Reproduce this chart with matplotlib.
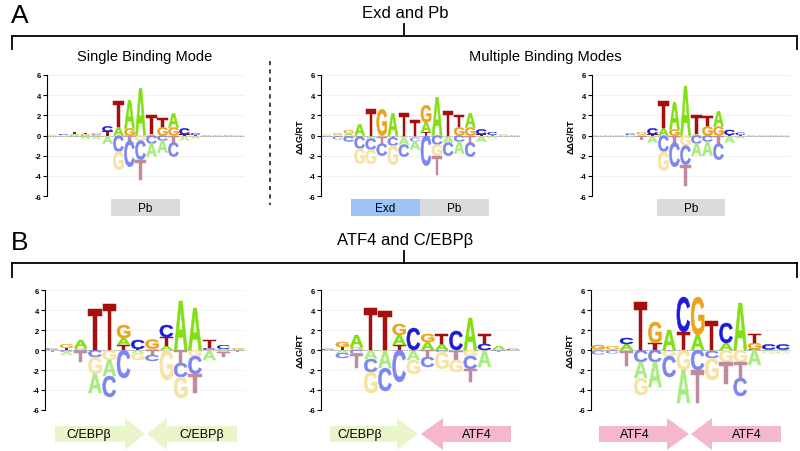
import matplotlib
matplotlib.use('Agg')
import matplotlib.pyplot as plt
from matplotlib.textpath import TextPath
from matplotlib.patches import PathPatch, Rectangle, Polygon
from matplotlib.font_manager import FontProperties
from matplotlib.transforms import Affine2D

# energy logo values, one row per position: ddG/RT for A, C, G, T
BASES = ['A', 'C', 'G', 'T']

pb_single = [
    [0.03, -0.03, 0.02, 0.02], [-0.08, 0.1, 0.05, -0.05], [0.1, -0.1, 0.05, 0.2],
    [-0.35, 0.05, 0.1, 0.1], [-0.25, 0.1, 0.15, -0.1], [-0.7, 0.5, -0.1, 0.4],
    [0.8, -1.6, -1.8, 2.6], [2.8, -2.6, 0.7, -0.5], [4.7, -1.9, -0.5, -2.0],
    [-1.3, -0.8, 0.1, 1.9], [-1.2, -0.5, 0.8, 0.9], [1.4, -1.4, 0.8, -0.7],
    [-0.4, 0.6, -0.1, 0.1], [-0.2, 0.2, -0.1, 0.05], [0.03, -0.05, 0.02, 0.03],
    [0.02, 0.03, -0.04, 0.03], [-0.02, 0.03, 0.02, -0.02], [0.02, 0.02, -0.03, 0.03],
]

exd_pb = [
    [0.05, -0.1, 0.05, -0.05], [0.1, -0.3, 0.15, -0.1], [0.2, -0.5, 0.35, -0.1],
    [1.1, -1.2, -1.5, -0.1], [-0.3, -1.1, -1.4, 2.6], [-0.1, -1.2, 2.6, -0.7],
    [2.2, -0.8, -1.9, -0.2], [-0.7, -1.2, -0.2, 2.2], [-0.8, -0.4, -0.2, 1.5],
    [1.0, -3.0, 1.7, 0.3], [3.8, -0.9, -1.1, -1.9], [-0.6, -1.3, -0.1, 2.4],
    [-1.2, -0.6, 0.8, 1.2], [1.4, -1.4, 0.8, -0.7], [-0.5, 0.5, -0.1, 0.1],
    [-0.2, 0.3, -0.2, 0.05], [0.05, -0.05, 0.02, 0.03], [-0.02, 0.03, -0.02, 0.04],
]

pb_multi = [
    [0.02, 0.02, -0.02, 0.03], [0.02, -0.03, 0.02, 0.03], [-0.03, 0.02, 0.02, 0.04],
    [-0.15, 0.15, 0.05, -0.05], [0.1, -0.05, 0.25, -0.35], [-0.6, 0.6, -0.1, 0.1],
    [0.7, -1.6, -1.9, 2.7], [2.7, -2.4, 0.6, -0.7], [4.9, -1.9, -1.0, -2.1],
    [-1.2, -0.8, 0.1, 1.9], [-1.4, -0.6, 0.9, 1.0], [1.5, -1.6, 0.9, -0.8],
    [-0.6, 0.5, -0.1, 0.05], [-0.2, 0.25, -0.1, 0.05], [0.02, -0.03, 0.02, 0.03],
    [-0.02, 0.02, 0.02, 0.04], [-0.02, 0.02, 0.02, 0.04], [0.02, -0.02, 0.02, 0.03],
]

cebp_cebp = [
    [0.05, 0.1, -0.05, -0.1], [-0.3, -0.2, 0.4, 0.2], [0.8, -0.1, 0.2, -1.1],
    [-1.9, -0.7, -1.7, 4.1], [-1.6, -2.1, -1.0, 4.6], [0.7, -2.8, 1.3, 0.5],
    [-0.3, 0.9, -0.7, 0.1], [0.15, -0.6, 0.9, -0.5], [0.4, 1.2, -3.0, 0.9],
    [4.9, -1.4, -2.1, -1.3], [4.2, -1.8, -0.6, -1.9], [-0.9, 0.2, -0.1, 0.8],
    [-0.2, 0.4, 0.1, -0.5], [0.1, -0.05, 0.1, -0.1],
]

cebp_atf4 = [
    [0.02, 0.1, -0.05, -0.05], [-0.3, -0.5, 0.5, 0.3], [1.2, -0.4, 0.3, -1.4],
    [-0.9, -1.3, -2.1, 4.2], [-1.7, -2.3, -0.1, 3.9], [1.0, -3.2, 1.1, 0.5],
    [-0.9, 2.2, -1.4, -0.1], [0.8, -1.0, 0.8, -0.7], [0.6, -0.2, -1.7, 1.0],
    [-0.1, 1.9, -1.2, -0.9], [3.2, -1.3, -0.6, -1.3], [-1.6, 0.6, -0.1, 1.0],
    [0.3, -0.1, 0.1, -0.1], [-0.03, 0.1, -0.05, 0.02],
]

atf4_atf4 = [
    [-0.05, -0.4, 0.45, 0.05], [0.05, -0.3, 0.35, -0.05], [0.6, 0.6, -0.1, -1.5],
    [-1.6, -1.2, -1.7, 4.8], [-2.5, -1.2, 2.1, 0.7], [2.0, -2.1, -0.5, -0.1],
    [-3.3, 3.5, -2.0, 1.8], [1.5, -2.0, 3.8, -3.3], [-0.1, -0.7, -2.2, 2.9],
    [0.7, 2.0, -1.2, -2.2], [4.7, -1.8, -1.2, -1.6], [-1.5, 0.1, 0.6, 0.9],
    [-0.1, 0.5, -0.3, 0.05], [-0.1, 0.5, -0.3, 0.05],
]

POS_COL = {'A': '#80e012', 'C': '#1c1cd8', 'G': '#eca31a', 'T': '#a5100e'}
NEG_COL = {'A': '#a8ec80', 'C': '#7c86f2', 'G': '#f6e3a2', 'T': '#be8c9c'}

W, H = 800, 452
plt.rcParams['font.family'] = ['Liberation Sans', 'DejaVu Sans']

fig = plt.figure(figsize=(8, 4.52), dpi=100)

# glyph outlines normalised to the unit square
glyph_fp = FontProperties(family='Liberation Sans', weight='bold')
GLYPHS = {}
for b in BASES:
    p = TextPath((0, 0), b, size=1, prop=glyph_fp)
    ext = p.get_extents()
    GLYPHS[b] = p.transformed(Affine2D().translate(-ext.x0, -ext.y0)
                              .scale(1 / ext.width, 1 / ext.height))


def letter(ax, b, x, y, w, h, col):
    path = GLYPHS[b].transformed(Affine2D().scale(w, h).translate(x, y))
    # thin same-colour edge makes the strokes as heavy as in the original,
    # but only on letters tall enough to need it
    lw = 0.35 if h > 0.4 else 0
    ax.add_patch(PathPatch(path, fc=col, ec=col if lw else 'none', lw=lw, zorder=3))


def draw_logo(ax, rows, ylabel=True):
    n = len(rows)
    for i, row in enumerate(rows):
        up, down = 0.0, 0.0
        for v, b in sorted(zip(row, BASES), key=lambda t: abs(t[0])):
            if v > 0:
                letter(ax, b, i - 0.46, up, 0.92, v, POS_COL[b])
                up += v
            elif v < 0:
                letter(ax, b, i - 0.46, down + v, 0.92, -v, NEG_COL[b])
                down += v
    ax.set_xlim(-0.5, n - 0.5)
    ax.set_ylim(-6, 6)
    ax.set_yticks(range(-6, 7, 2))
    ax.set_yticklabels([str(t) for t in range(-6, 7, 2)], fontsize=5.5, fontweight='bold')
    ax.set_xticks([])
    ax.tick_params(axis='y', length=3, width=0.8, pad=1)
    for s in ['top', 'right', 'bottom']:
        ax.spines[s].set_visible(False)
    ax.spines['left'].set_linewidth(0.8)
    ax.yaxis.grid(True, color='#f0f0f0', lw=0.6)
    ax.set_axisbelow(True)
    ax.axhline(0, color='#999999', lw=0.6, ls=(0, (2, 1)), zorder=2)
    if ylabel:
        ax.set_ylabel('ΔΔG/RT', fontsize=6.5, fontweight='bold', labelpad=3)
    ax.patch.set_alpha(0)


def px_axes(x0, y0, x1, y1):
    return fig.add_axes([x0 / W, 1 - y1 / H, (x1 - x0) / W, (y1 - y0) / H])


# overlay in pixel coordinates for brackets, labels, boxes and arrows
ov = fig.add_axes([0, 0, 1, 1])
ov.set_xlim(0, W)
ov.set_ylim(H, 0)
ov.axis('off')

ov.text(20, 16, 'A', fontsize=19, ha='center', va='center')
ov.text(20, 243, 'B', fontsize=19, ha='center', va='center')
ov.text(405, 13, 'Exd and Pb', fontsize=12, ha='center', va='center')
ov.text(405, 241, 'ATF4 and C/EBPβ', fontsize=12, ha='center', va='center')
ov.text(145, 57, 'Single Binding Mode', fontsize=10.5, ha='center', va='center')
ov.text(545, 57, 'Multiple Binding Modes', fontsize=10.5, ha='center', va='center')

for ytop, yline, yend in [(25, 37, 50), (252, 264, 278)]:
    ov.plot([12, 797], [yline, yline], color='black', lw=1.3)
    ov.plot([12, 12], [yline, yend], color='black', lw=1.3)
    ov.plot([797, 797], [yline, yend], color='black', lw=1.3)
    ov.plot([404, 404], [ytop, yline], color='black', lw=1.3)

ov.plot([270, 270], [62, 206], color='#222222', lw=1.2, ls=(0, (2.5, 2.5)))

GREY = '#d9dcdc'
BLUE = '#9dc3f7'
for x0, x1, col, lab in [(111, 180, GREY, 'Pb'), (351, 420, BLUE, 'Exd'),
                         (420, 489, GREY, 'Pb'), (657, 725, GREY, 'Pb')]:
    ov.add_patch(Rectangle((x0, 200), x1 - x0, 17, fc=col, ec='none'))
    ov.text((x0 + x1) / 2, 209, lab, fontsize=8.5, ha='center', va='center')

GREEN_A = '#e9f6cb'
PINK_A = '#f4b7cc'


def arrow(x0, xh, tip, col):
    pts = [(x0, 427), (xh, 427), (xh, 419), (tip, 435), (xh, 451), (xh, 443), (x0, 443)]
    ov.add_patch(Polygon(pts, closed=True, fc=col, ec='none'))


arrow(55, 125, 145, GREEN_A)
arrow(237, 167, 147, GREEN_A)
arrow(330, 397, 418, GREEN_A)
arrow(511, 443, 421, PINK_A)
arrow(599, 667, 689, PINK_A)
arrow(781, 712, 691, PINK_A)
for x, lab in [(89, 'C/EBPβ'), (202, 'C/EBPβ'), (360, 'C/EBPβ'),
               (477, 'ATF4'), (635, 'ATF4'), (747, 'ATF4')]:
    ov.text(x, 435, lab, fontsize=9, ha='center', va='center')

# logo panels
draw_logo(px_axes(47, 76, 245, 197), pb_single, ylabel=False)
draw_logo(px_axes(321, 76, 520, 197), exd_pb)
draw_logo(px_axes(592, 76, 790, 197), pb_multi)
draw_logo(px_axes(45, 291, 245, 411), cebp_cebp, ylabel=False)
draw_logo(px_axes(321, 291, 520, 411), cebp_atf4)
draw_logo(px_axes(591, 291, 790, 411), atf4_atf4)

fig.savefig('out.png', dpi=100)
